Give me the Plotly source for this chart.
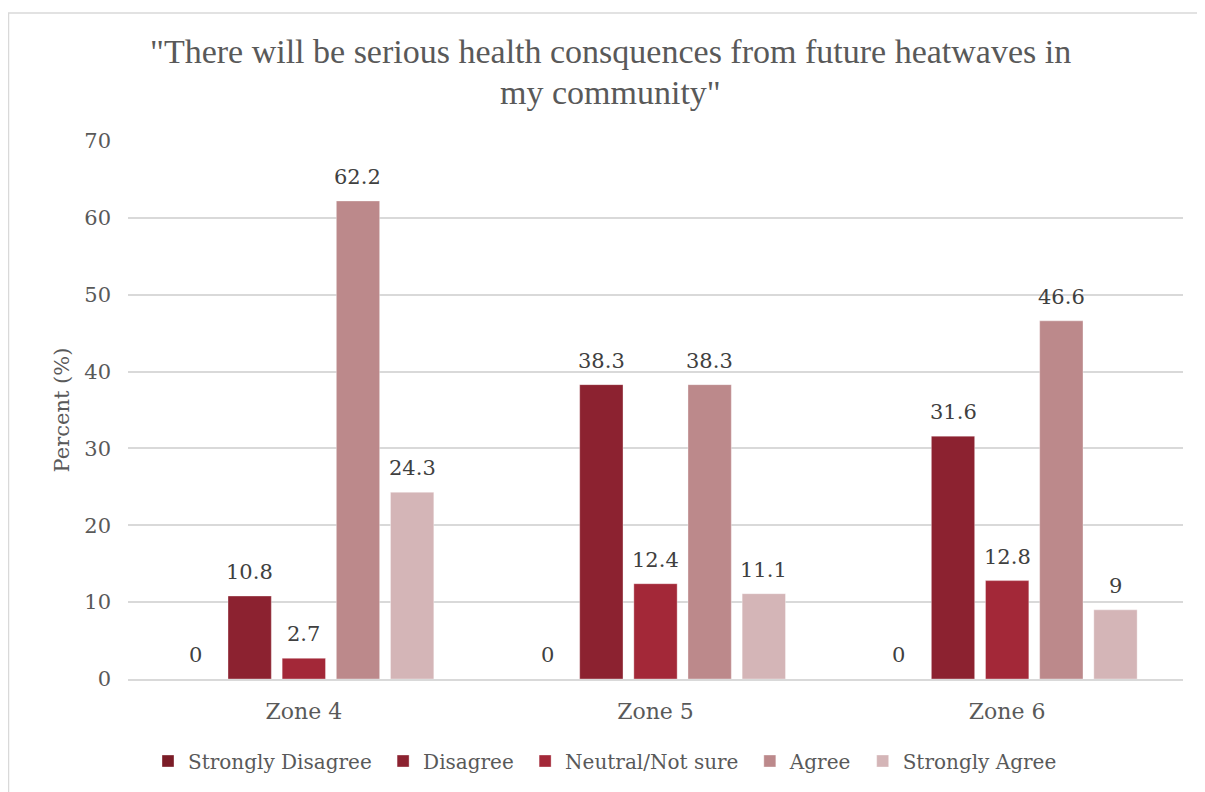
import plotly.graph_objects as go

zones = ["Zone 4", "Zone 5", "Zone 6"]
series_names = ["Strongly Disagree", "Disagree", "Neutral/Not sure", "Agree", "Strongly Agree"]
strongly_disagree = [0, 0, 0]
disagree = [10.8, 38.3, 31.6]
neutral = [2.7, 12.4, 12.8]
agree = [62.2, 38.3, 46.6]
strongly_agree = [24.3, 11.1, 9]
colors = ["#7B1C27", "#8C2230", "#A32838", "#BC898B", "#D4B5B7"]
y_ticks = [0, 10, 20, 30, 40, 50, 60, 70]
title_lines = ['"There will be serious health consquences from future heatwaves in', 'my community"']

values = [strongly_disagree, disagree, neutral, agree, strongly_agree]
font = "DejaVu Serif"
title_font = "Liberation Serif"
grey = "#595959"

W, H = 1205, 792
L, R, T, B = 120, 30, 133, 121
pw, ph = W - L - R, H - T - B
BARGAP, GROUPGAP = 0.23, 0.2


def px(x):
    return (x - L) / pw


def py(y):
    return (H - B - y) / ph


fig = go.Figure()
n = len(series_names)
for k, (name, vals, col) in enumerate(zip(series_names, values, colors)):
    legend_name = name + ("\u00a0" if k < n - 1 else "")
    fig.add_trace(go.Bar(
        x=zones, y=vals, name=legend_name, marker_color=col,
        marker_line=dict(color="rgba(255,255,255,0.35)", width=1),
        hovertemplate=name + ": %{y}<extra></extra>",
        cliponaxis=False,
    ))

# data labels, centred above each bar of the group
slot = (pw / len(zones)) * (1 - BARGAP) / n
annotations = []
for i, vals in enumerate(values):
    for z, v in zip(zones, vals):
        annotations.append(dict(
            x=z, y=v, xref="x", yref="y", text=f"{v:g}", showarrow=False,
            xshift=(i - (n - 1) / 2) * slot, yshift=24, yanchor="middle",
            font=dict(family=font, size=21, color="#404040"),
        ))
for line, ycen in zip(title_lines, [44, 84]):
    annotations.append(dict(
        x=px(602), y=py(ycen), xref="paper", yref="paper", text=line, showarrow=False,
        xanchor="center", yanchor="middle",
        font=dict(family=title_font, size=34, color=grey),
    ))

fig.update_layout(
    width=W, height=H,
    paper_bgcolor="white", plot_bgcolor="white",
    margin=dict(l=L, r=R, t=T, b=B, autoexpand=False),
    barmode="group", bargap=BARGAP, bargroupgap=GROUPGAP,
    font=dict(family=font, color=grey),
    legend=dict(orientation="h", x=px(597), xanchor="center", y=py(753), yanchor="middle",
                font=dict(family=font, size=20, color=grey),
                itemwidth=30, traceorder="normal"),
    annotations=annotations,
    shapes=[
        dict(type="line", xref="paper", yref="paper", x0=px(0), x1=px(W), y0=py(5), y1=py(5),
             line=dict(color="#D9D9D9", width=1.5)),
        dict(type="line", xref="paper", yref="paper", x0=px(0.5), x1=px(0.5), y0=py(5), y1=py(H),
             line=dict(color="#D9D9D9", width=1.5)),
    ],
)
fig.update_yaxes(range=[0, 70], tickvals=y_ticks, showgrid=True, gridcolor="#D9D9D9", gridwidth=1.5,
                 zeroline=False, showline=False, ticks="", automargin=False,
                 ticklabelstandoff=16,
                 tickfont=dict(family=font, size=21, color=grey),
                 title=dict(text="Percent (%)", font=dict(family=font, size=21, color=grey), standoff=8))
fig.update_xaxes(showline=True, linecolor="#D9D9D9", linewidth=1.5, automargin=False,
                 ticklabelstandoff=12,
                 tickfont=dict(family=font, size=22, color=grey), ticks="")

fig.write_html("out.html")
